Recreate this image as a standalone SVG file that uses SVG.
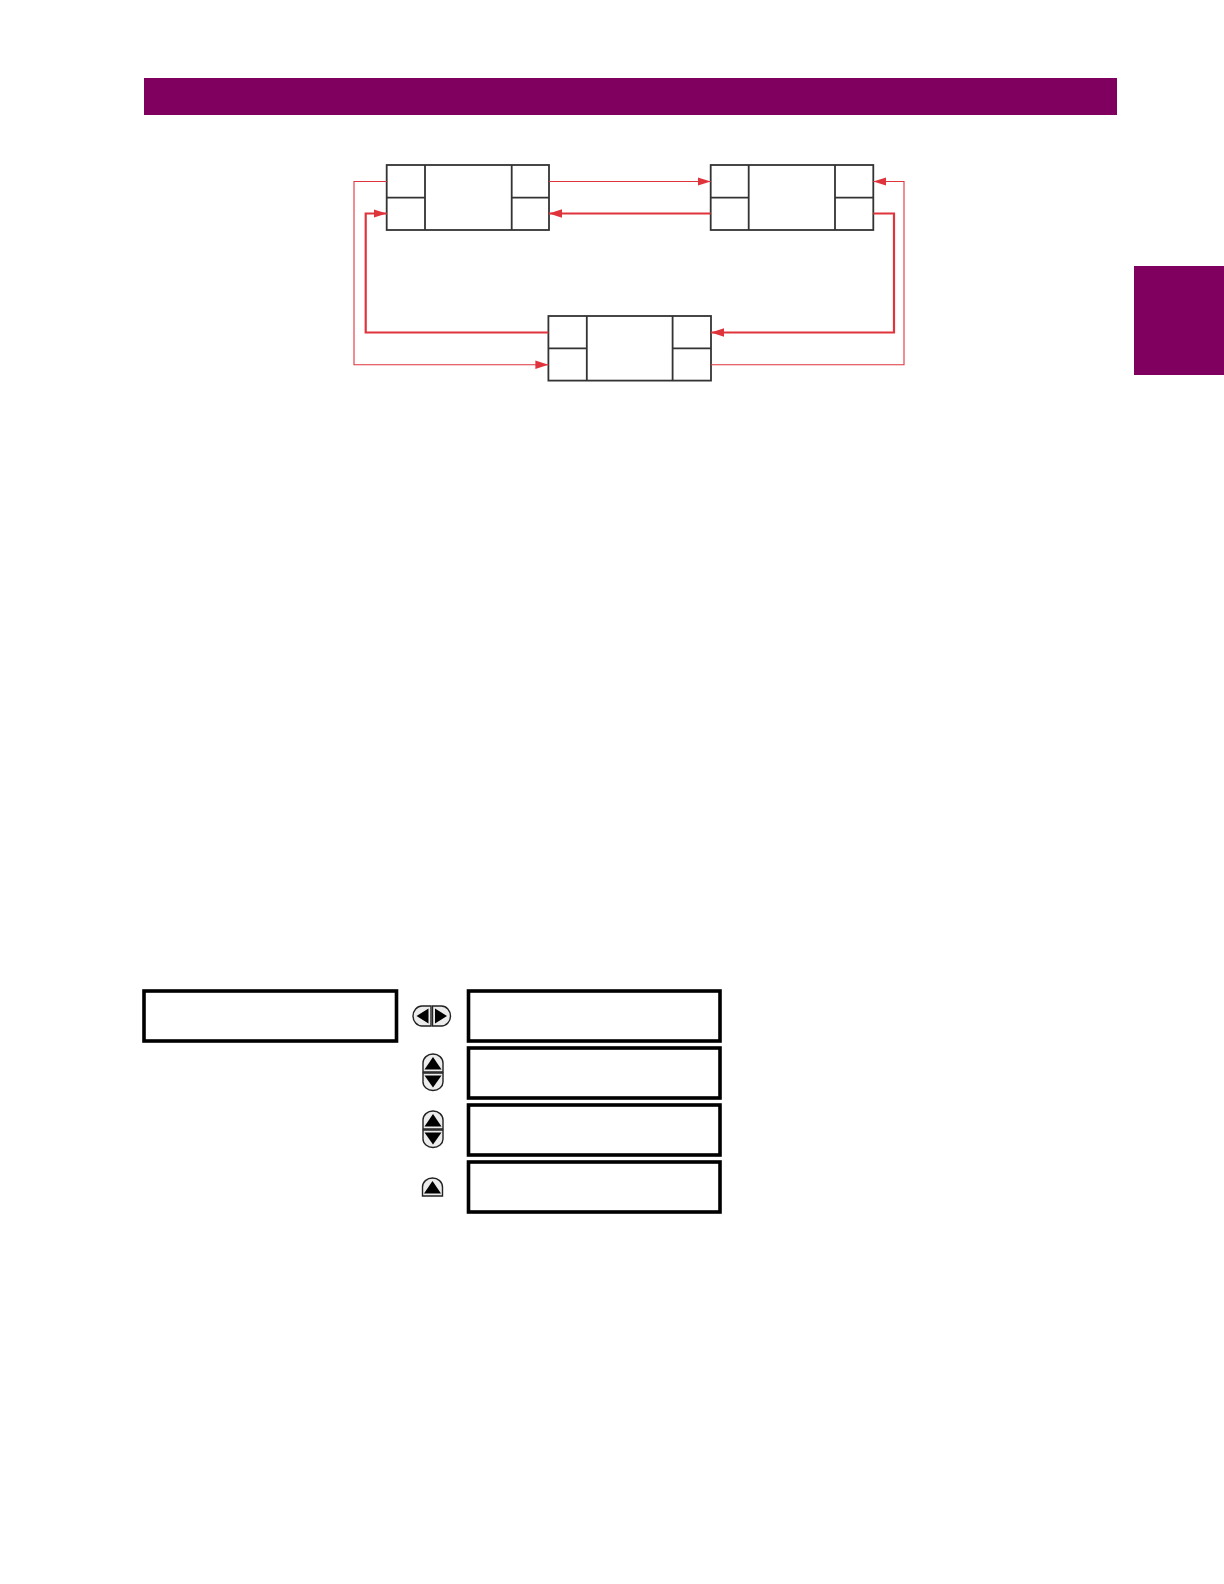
<svg xmlns="http://www.w3.org/2000/svg" width="1224" height="1584" viewBox="0 0 1224 1584">
<style>
.bar{fill:#800060}
.cell{fill:#fff;stroke:#333;stroke-width:1.8}
.div{fill:none;stroke:#333;stroke-width:1.8}
.thin{fill:none;stroke:#e0343c;stroke-width:1.1}
.thick{fill:none;stroke:#e0343c;stroke-width:2.2}
.disp{fill:#fff;stroke:#000;stroke-width:3.6}
.btn{fill:#ececec;stroke:#222;stroke-width:1.4}
.tri{fill:#000}
</style>
<defs>
<marker id="ah" markerUnits="userSpaceOnUse" markerWidth="14" markerHeight="10" viewBox="0 0 14 10" refX="13" refY="5" orient="auto">
<path d="M0,0.8 L13,5 L0,9.2 Z" fill="#e0343c"/>
</marker>
</defs>
<rect class="bar" x="144" y="78" width="973" height="37"/>
<rect class="bar" x="1134" y="266" width="90" height="109"/>

<g id="node1">
<rect class="cell" x="386.7" y="165" width="162.3" height="65"/>
<path class="div" d="M425,165 V230 M511.7,165 V230 M386.7,197.7 H425 M511.7,197.7 H549"/>
</g>
<g id="node2">
<rect class="cell" x="710.7" y="165" width="162.6" height="65"/>
<path class="div" d="M748.7,165 V230 M835,165 V230 M710.7,197.7 H748.7 M835,197.7 H873.3"/>
</g>
<g id="node3">
<rect class="cell" x="548.4" y="316" width="162.6" height="64.6"/>
<path class="div" d="M586.8,316 V380.6 M672.6,316 V380.6 M548.4,348.3 H586.8 M672.6,348.3 H711"/>
</g>

<g id="connectors">
<path class="thin" d="M549,181.5 H710.7" marker-end="url(#ah)"/>
<path class="thick" d="M710.7,213.5 H549" marker-end="url(#ah)"/>
<path class="thick" d="M873.3,213.5 H894 V332.5 H711" marker-end="url(#ah)"/>
<path class="thin" d="M711,364.8 H904 V181.5 H873.3" marker-end="url(#ah)"/>
<path class="thick" d="M548.4,332.5 H365.7 V213.5 H386.7" marker-end="url(#ah)"/>
<path class="thin" d="M386.7,181.5 H354 V364.8 H548.4" marker-end="url(#ah)"/>
</g>

<g id="display-left">
<rect class="disp" x="144" y="991" width="252.5" height="50"/>
</g>
<g id="display-1">
<rect class="disp" x="468.5" y="991" width="251.5" height="50"/>
</g>
<g id="display-2">
<rect class="disp" x="468.5" y="1048" width="251.5" height="50"/>
</g>
<g id="display-3">
<rect class="disp" x="468.5" y="1105" width="251.5" height="50"/>
</g>
<g id="display-4">
<rect class="disp" x="468.5" y="1162" width="251.5" height="50"/>
</g>

<g id="icon-leftright">
<path class="btn" d="M431,1006 H422 A9,10 0 0 0 422,1026 H431 Z"/>
<path class="tri" d="M416.5,1016 L428.5,1008.5 L428.5,1023.5 Z"/>
<path class="btn" d="M432.5,1006 H441.5 A9,10 0 0 1 441.5,1026 H432.5 Z"/>
<path class="tri" d="M447,1016 L435,1008.5 L435,1023.5 Z"/>
</g>
<g id="icon-updown-1">
<path class="btn" d="M423,1072 V1063 A10,9 0 0 1 443,1063 V1072 Z"/>
<path class="tri" d="M433,1057 L441.5,1069.5 L424.5,1069.5 Z"/>
<path class="btn" d="M423,1073 V1082 A10,8.5 0 0 0 443,1082 V1073 Z"/>
<path class="tri" d="M433,1087.5 L441.5,1075.5 L424.5,1075.5 Z"/>
</g>
<g id="icon-updown-2">
<path class="btn" d="M423,1129 V1120 A10,9 0 0 1 443,1120 V1129 Z"/>
<path class="tri" d="M433,1114 L441.5,1126.5 L424.5,1126.5 Z"/>
<path class="btn" d="M423,1130 V1139 A10,8.5 0 0 0 443,1139 V1130 Z"/>
<path class="tri" d="M433,1144.5 L441.5,1132.5 L424.5,1132.5 Z"/>
</g>
<g id="icon-up">
<path class="btn" d="M422.5,1196 V1187 A10,9 0 0 1 442.5,1187 V1196 Z"/>
<path class="tri" d="M432.5,1181 L441,1193.5 L424,1193.5 Z"/>
</g>
</svg>
